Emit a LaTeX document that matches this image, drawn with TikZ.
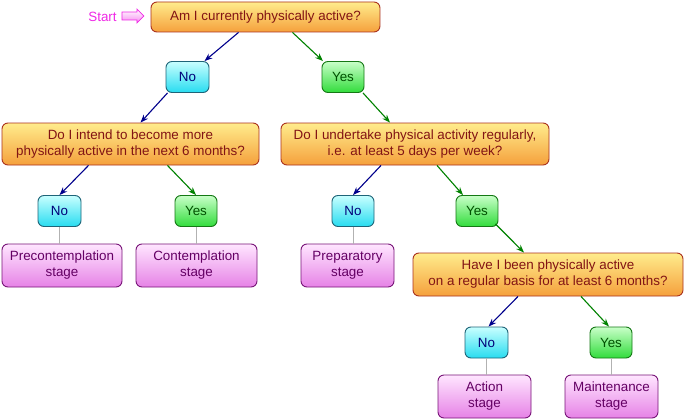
\documentclass[tikz,border=0pt]{standalone}
\usepackage{fontspec}
\setmainfont{Liberation Sans}
\usetikzlibrary{arrows.meta,calc,shapes.arrows}
\definecolor{qtop}{RGB}{255,236,140}
\definecolor{qbot}{RGB}{245,160,60}
\definecolor{qborder}{RGB}{170,50,30}
\definecolor{qtext}{RGB}{130,20,20}
\definecolor{ntop}{RGB}{200,255,255}
\definecolor{nbot}{RGB}{40,220,240}
\definecolor{nborder}{RGB}{30,100,120}
\definecolor{ntext}{RGB}{0,0,120}
\definecolor{ytop}{RGB}{200,255,200}
\definecolor{ybot}{RGB}{50,220,60}
\definecolor{yborder}{RGB}{20,120,20}
\definecolor{ytext}{RGB}{0,80,0}
\definecolor{stop}{RGB}{255,230,255}
\definecolor{sbot}{RGB}{230,130,230}
\definecolor{sborder}{RGB}{120,20,120}
\definecolor{stext}{RGB}{100,0,100}
\definecolor{noarrow}{RGB}{0,0,140}
\definecolor{yesarrow}{RGB}{0,130,0}
\definecolor{startc}{RGB}{240,40,230}
\tikzset{
  base/.style={rounded corners=6pt, line width=0.9pt, inner sep=0pt, align=center,
    font=\fontsize{13.4}{16}\selectfont},
  qbox/.style={base, draw=qborder, top color=qtop, bottom color=qbot, text=qtext, minimum height=42pt},
  nobox/.style={base, draw=nborder, top color=ntop, bottom color=nbot, text=ntext, minimum width=43pt, minimum height=31pt},
  yesbox/.style={base, draw=yborder, top color=ytop, bottom color=ybot, text=ytext, minimum width=42pt, minimum height=31pt},
  stagebox/.style={base, draw=sborder, top color=stop, bottom color=sbot, text=stext, minimum width=93pt, minimum height=43pt},
  noarr/.style={draw=noarrow, line width=1.1pt, -{Stealth[length=8pt,width=6pt]}},
  yesarr/.style={draw=yesarrow, line width=1.1pt, -{Stealth[length=8pt,width=6pt]}},
  link/.style={draw=black!30, line width=0.9pt}
}
\begin{document}
\begin{tikzpicture}[x=1pt,y=-1pt]
\useasboundingbox[fill=white] (0,0) rectangle (685,420);
% nodes
\node[qbox, minimum width=229pt, minimum height=30pt] (q1) at (265.5,17) {Am I currently physically active?};
\node[font=\fontsize{13.4}{14}\selectfont, text=startc, inner sep=0pt] (start) at (102.5,17) {Start};
\node[single arrow, draw=startc, line width=0.7pt, top color=white, bottom color=startc!55, minimum height=22pt, minimum width=14pt, single arrow head extend=3pt, inner sep=3.5pt] (sarrow) at (131,16) {};
\node[nobox] (no1) at (187.5,77) {No};
\node[yesbox] (yes1) at (343,77) {Yes};
\node[qbox, minimum width=257pt] (q2l) at (130.5,144) {Do I intend to become more\\physically active in the next 6 months?};
\node[qbox, minimum width=268pt] (q2r) at (415,144) {Do I undertake physical activity regularly,\\i.e. at least 5 days per week?};
\node[nobox] (no2) at (59.5,211) {No};
\node[yesbox] (yes2) at (196,211) {Yes};
\node[nobox, minimum width=42pt] (no3) at (353,211) {No};
\node[yesbox] (yes3) at (477,211) {Yes};
\node[stagebox, minimum width=120pt] (pre) at (62,265.5) {Precontemplation\\stage};
\node[stagebox, minimum width=121pt] (con) at (196.5,265.5) {Contemplation\\stage};
\node[stagebox] (prep) at (347.5,265.5) {Preparatory\\stage};
\node[qbox, minimum width=270pt, minimum height=43pt] (q3) at (548,274.5) {Have I been physically active\\on a regular basis for at least 6 months?};
\node[nobox] (no4) at (486.5,342.5) {No};
\node[yesbox] (yes4) at (611,342.5) {Yes};
\node[stagebox] (act) at (484.5,396.5) {Action\\stage};
\node[stagebox] (main) at (611.5,396.5) {Maintenance\\stage};
% arrows
\draw[noarr] ($(q1.south)+(-27,0)$) -- ($(no1.north)+(17,0)$);
\draw[yesarr] ($(q1.south)+(27,0)$) -- ($(yes1.north)+(-20,0)$);
\draw[noarr] ($(no1.south)+(-20,0)$) -- ($(q2l.north)+(10,0)$);
\draw[yesarr] ($(yes1.south)+(20,0)$) -- ($(q2r.north)+(-25,0)$);
\draw[noarr] ($(q2l.south)+(-42,0)$) -- (no2.north);
\draw[yesarr] ($(q2l.south)+(37,0)$) -- (yes2.north);
\draw[noarr] ($(q2r.south)+(-34,0)$) -- (no3.north);
\draw[yesarr] ($(q2r.south)+(22,0)$) -- ($(yes3.north)+(-14,0)$);
\draw[yesarr] ($(yes3.south east)+(-3,-3)$) -- ($(q3.north)+(-24,0)$);
\draw[noarr] ($(q3.south)+(-30,0)$) -- ($(no4.north)+(2,0)$);
\draw[yesarr] ($(q3.south)+(33,0)$) -- ($(yes4.north)+(-2,0)$);
% gray links
\draw[link] (no2.south) -- (no2.south |- pre.north);
\draw[link] (yes2.south) -- (yes2.south |- con.north);
\draw[link] (no3.south) -- (no3.south |- prep.north);
\draw[link] (no4.south) -- (no4.south |- act.north);
\draw[link] (yes4.south) -- (yes4.south |- main.north);
\end{tikzpicture}
\end{document}
